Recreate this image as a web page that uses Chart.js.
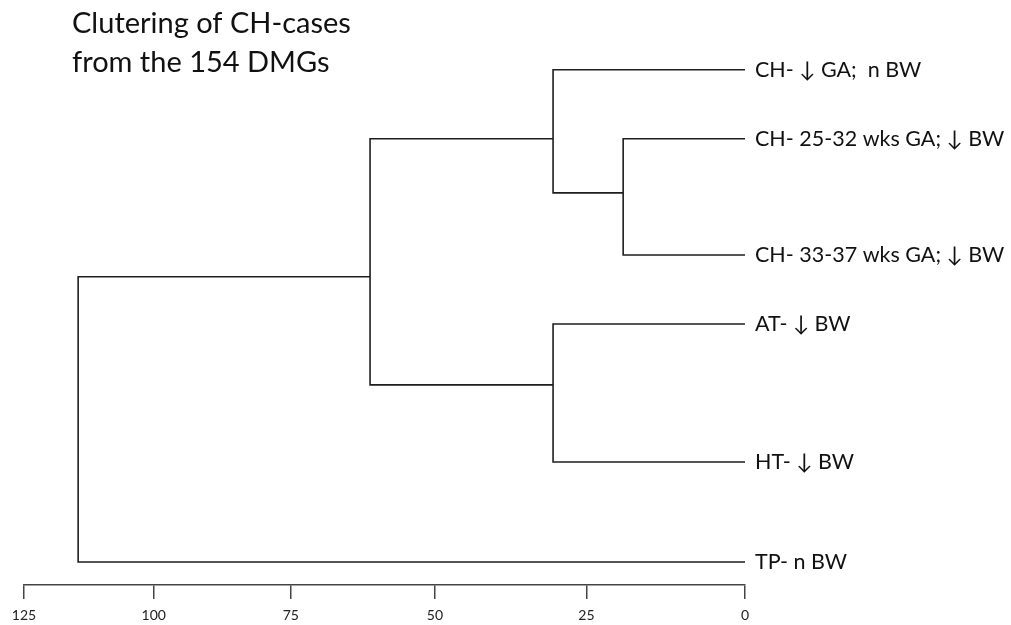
<!DOCTYPE html>
<html>
<head>
<meta charset="utf-8">
<script src="https://cdn.jsdelivr.net/npm/chart.js@4/dist/chart.umd.min.js"></script>
<style>
  html, body { margin: 0; background: #fff; }
  #wrap { width: 1011px; height: 625px; position: relative; }
</style>
</head>
<body>
<div id="wrap"><canvas id="c"></canvas></div>
<script>
// Dendrogram of CH-cases clustered on the 154 DMGs
const titleLines = ['Clutering of CH-cases', 'from the 154 DMGs'];
const leafNames = ['CH- \u2193 GA;  n BW', 'CH- 25-32 wks GA; \u2193 BW', 'CH- 33-37 wks GA; \u2193 BW', 'AT- \u2193 BW', 'HT- \u2193 BW', 'TP- n BW'];
const leafRows = [1.04, 2.24, 4.26, 5.46, 7.86, 9.6];
// merge k joins node mergeLeft[k] with node mergeRight[k] (leaves are 0-5, merges are 6+)
const mergeLeft = [1, 0, 3, 7, 9];
const mergeRight = [2, 6, 4, 8, 5];
const mergeHeight = [19.1, 30.4, 30.4, 61.1, 114.4];
const mergeRow = [3.18, 2.24, 6.52, 4.64, 7.1];
const distanceTicks = [0, 25, 50, 75, 100, 125];

const nLeaves = leafNames.length;
const nodeHeight = i => (i < nLeaves ? 0 : mergeHeight[i - nLeaves]);
const nodeRow = i => (i < nLeaves ? leafRows[i] : mergeRow[i - nLeaves]);

// each merge is drawn as an elbow: child A -> join height -> child B
const datasets = mergeHeight.map((h, k) => {
  const a = mergeLeft[k], b = mergeRight[k];
  return {
    data: [
      { x: nodeHeight(a), y: nodeRow(a) },
      { x: h, y: nodeRow(a) },
      { x: h, y: nodeRow(b) },
      { x: nodeHeight(b), y: nodeRow(b) }
    ],
    showLine: true,
    borderColor: '#1e1e1e',
    borderWidth: 1.6,
    pointRadius: 0,
    pointHoverRadius: 0,
    tension: 0,
    fill: false,
    clip: false
  };
});

// distance axis that is slightly compressed towards large distances
const LinearScale = Chart.registry.getScale('linear');
const bend = 0.125;
const warp = t => (1 + bend) * t - bend * t * t;
const unwarp = d => ((1 + bend) - Math.sqrt((1 + bend) * (1 + bend) - 4 * bend * d)) / (2 * bend);
class CompressedScale extends LinearScale {
  getPixelForValue(value) {
    if (value === null || value === undefined) return NaN;
    return this.getPixelForDecimal(warp((value - this._startValue) / this._valueRange));
  }
  getValueForPixel(pixel) {
    return this._startValue + unwarp(this.getDecimalForPixel(pixel)) * this._valueRange;
  }
}
CompressedScale.id = 'compressed';
CompressedScale.defaults = LinearScale.defaults;
Chart.register(CompressedScale);

const headline = {
  id: 'headline',
  afterDraw(chart) {
    const ctx = chart.ctx;
    ctx.save();
    ctx.font = '29px Lato, "DejaVu Sans"';
    ctx.fillStyle = '#111';
    ctx.textBaseline = 'alphabetic';
    ctx.textAlign = 'left';
    titleLines.forEach((t, i) => ctx.fillText(t, 72, 33 + 39 * i));
    ctx.restore();
  }
};

new Chart(document.getElementById('c'), {
  type: 'scatter',
  data: { datasets },
  plugins: [headline],
  options: {
    responsive: true,
    maintainAspectRatio: false,
    animation: false,
    events: [],
    layout: { padding: { left: 24, top: 10, right: 0, bottom: 0 } },
    plugins: { legend: { display: false }, tooltip: { enabled: false } },
    scales: {
      x: {
        type: 'compressed',
        min: 0,
        max: 125,
        reverse: true,
        afterBuildTicks: s => { s.ticks = distanceTicks.map(v => ({ value: v })); },
        afterFit: s => { s.height = 40; s.paddingLeft = 0; s.paddingRight = 0; },
        ticks: { autoSkip: false, maxRotation: 0, color: '#222', font: { family: 'Lato, "DejaVu Sans"', size: 14 }, padding: 8 },
        grid: { drawOnChartArea: false, tickLength: 14, color: '#444', lineWidth: 1.5 },
        border: { color: '#444', width: 1.5 }
      },
      y: {
        type: 'linear',
        position: 'right',
        reverse: true,
        min: 0,
        max: 10,
        afterBuildTicks: s => { s.ticks = leafRows.map(v => ({ value: v })); },
        afterFit: s => { s.width = 266; s.paddingTop = 0; s.paddingBottom = 0; },
        ticks: {
          autoSkip: false,
          callback: (v, i) => leafNames[i],
          color: '#111',
          font: { family: 'Lato, "DejaVu Sans"', size: 21.5 },
          padding: 2
        },
        grid: { display: false },
        border: { display: false }
      }
    }
  }
});
</script>
</body>
</html>
